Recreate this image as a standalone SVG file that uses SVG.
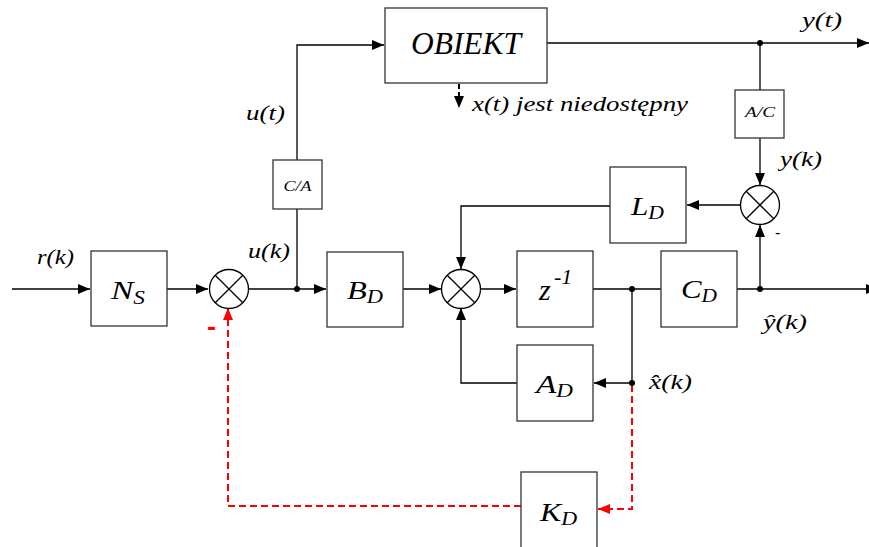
<svg xmlns="http://www.w3.org/2000/svg" width="869" height="547" viewBox="0 0 869 547">
<style>
.box{fill:#fff;stroke:#333;stroke-width:1.3}
.ln{fill:none;stroke:#000;stroke-width:1.3}
.red{fill:none;stroke:#f00;stroke-width:2;stroke-dasharray:7,4}
.t{font-family:'Liberation Serif','Times New Roman',serif;font-style:italic;fill:#000}
.big{font-size:26px}
.sub{font-size:18px}
.lab{font-size:21px}
.sm{font-size:14px}
.sum{fill:#fff;stroke:#000;stroke-width:1.3}
</style>
<defs>
<marker id="a" markerUnits="userSpaceOnUse" markerWidth="14" markerHeight="10" refX="12" refY="5" orient="auto"><path d="M0,0 L12,5 L0,10 Z" fill="#000"/></marker>
<marker id="ar" markerUnits="userSpaceOnUse" markerWidth="14" markerHeight="10" refX="12" refY="5" orient="auto"><path d="M0,0 L12,5 L0,10 Z" fill="#f00"/></marker>
</defs>
<rect width="869" height="547" fill="#fff"/>
<g id="connectors">
<polyline class="ln" points="297,160 297,45 384,45" marker-end="url(#a)"/>
<line class="ln" x1="297" y1="209" x2="297" y2="289"/>
<line class="ln" x1="12" y1="289" x2="90" y2="289" marker-end="url(#a)"/>
<line class="ln" x1="167" y1="289" x2="208" y2="289" marker-end="url(#a)"/>
<line class="ln" x1="248" y1="289" x2="326" y2="289" marker-end="url(#a)"/>
<line class="ln" x1="403" y1="289" x2="441" y2="289" marker-end="url(#a)"/>
<line class="ln" x1="480" y1="289" x2="516" y2="289" marker-end="url(#a)"/>
<line class="ln" x1="593" y1="289" x2="661" y2="289"/>
<line class="ln" x1="737" y1="289" x2="878" y2="289" marker-end="url(#a)"/>
<line class="ln" x1="547" y1="43" x2="869" y2="43" marker-end="url(#a)"/>
<line class="ln" x1="760" y1="43" x2="760" y2="90"/>
<line class="ln" x1="760" y1="138" x2="760" y2="185" marker-end="url(#a)"/>
<line class="ln" x1="760" y1="289" x2="760" y2="225" marker-end="url(#a)"/>
<line class="ln" x1="740" y1="205" x2="687" y2="205" marker-end="url(#a)"/>
<polyline class="ln" points="610,206 461,206 461,269" marker-end="url(#a)"/>
<line class="ln" x1="632" y1="289" x2="632" y2="383"/>
<line class="ln" x1="632" y1="383" x2="594" y2="383" marker-end="url(#a)"/>
<polyline class="ln" points="517,383 461,383 461,308" marker-end="url(#a)"/>
<line x1="459" y1="84" x2="459" y2="108" stroke="#000" stroke-width="2" stroke-dasharray="5,3" marker-end="url(#a)"/>
<polyline class="red" points="632,385 632,509 598,509" marker-end="url(#ar)"/>
<polyline class="red" points="521,506 228,506 228,308" marker-end="url(#ar)"/>
<circle cx="297" cy="289" r="3" fill="#000"/>
<circle cx="632" cy="289" r="3" fill="#000"/>
<circle cx="760" cy="289" r="3" fill="#000"/>
<circle cx="760" cy="43" r="3" fill="#000"/>
<circle cx="632" cy="383" r="3" fill="#000"/>
</g>
<g id="obiekt"><rect class="box" x="385" y="8" width="162" height="75"/><text class="t" x="411" y="54" font-size="31" textLength="110" lengthAdjust="spacingAndGlyphs">OBIEKT</text></g>
<g id="ca"><rect class="box" x="273" y="160" width="49" height="49"/><text class="t sm" x="283.5" y="191" textLength="28" lengthAdjust="spacingAndGlyphs">C/A</text></g>
<g id="ac"><rect class="box" x="735" y="90" width="49" height="48"/><text class="t sm" x="745" y="117" textLength="30" lengthAdjust="spacingAndGlyphs">A/C</text></g>
<g id="ns"><rect class="box" x="91" y="251" width="76" height="75"/><text class="t" x="111" y="299" textLength="34" lengthAdjust="spacingAndGlyphs"><tspan class="big">N</tspan><tspan class="sub" dy="5">S</tspan></text></g>
<g id="bd"><rect class="box" x="327" y="252" width="76" height="75"/><text class="t" x="347" y="299" textLength="36" lengthAdjust="spacingAndGlyphs"><tspan class="big">B</tspan><tspan class="sub" dy="4">D</tspan></text></g>
<g id="z"><rect class="box" x="517" y="251" width="76" height="76"/><text class="t" x="539" y="300"><tspan font-size="30">z</tspan><tspan font-size="22" x="554" y="284">-1</tspan></text></g>
<g id="cd"><rect class="box" x="661" y="251" width="76" height="76"/><text class="t" x="681" y="298" textLength="36" lengthAdjust="spacingAndGlyphs"><tspan class="big">C</tspan><tspan class="sub" dy="4">D</tspan></text></g>
<g id="ld"><rect class="box" x="610" y="167" width="76" height="76"/><text class="t" x="631" y="215" textLength="33" lengthAdjust="spacingAndGlyphs"><tspan class="big">L</tspan><tspan class="sub" dy="4">D</tspan></text></g>
<g id="ad"><rect class="box" x="517" y="345" width="76" height="76"/><text class="t" x="536" y="393" textLength="37" lengthAdjust="spacingAndGlyphs"><tspan class="big">A</tspan><tspan class="sub" dy="4">D</tspan></text></g>
<g id="kd"><rect class="box" x="521" y="472" width="76" height="76"/><text class="t" x="540" y="521" textLength="37" lengthAdjust="spacingAndGlyphs"><tspan class="big">K</tspan><tspan class="sub" dy="4">D</tspan></text></g>
<g id="sum1"><circle class="sum" cx="229" cy="289" r="19.5"/><path class="ln" d="M215.2,275.2 L242.8,302.8 M242.8,275.2 L215.2,302.8"/></g>
<g id="sum2"><circle class="sum" cx="461" cy="289" r="19.5"/><path class="ln" d="M447.2,275.2 L474.8,302.8 M474.8,275.2 L447.2,302.8"/></g>
<g id="sum3"><circle class="sum" cx="760" cy="205" r="19.5"/><path class="ln" d="M746.2,191.2 L773.8,218.8 M773.8,191.2 L746.2,218.8"/></g>
<g id="labels">
<text class="t lab" x="246" y="120" textLength="39" lengthAdjust="spacingAndGlyphs">u(t)</text>
<text class="t lab" x="248" y="258" textLength="42" lengthAdjust="spacingAndGlyphs">u(k)</text>
<text class="t lab" x="37" y="264" textLength="37" lengthAdjust="spacingAndGlyphs">r(k)</text>
<text class="t lab" x="802" y="27" textLength="40" lengthAdjust="spacingAndGlyphs">y(t)</text>
<text class="t lab" x="780" y="166" textLength="42" lengthAdjust="spacingAndGlyphs">y(k)</text>
<text class="t lab" x="472" y="111" textLength="216" lengthAdjust="spacingAndGlyphs">x(t) jest niedostępny</text>
<text class="t lab" x="763" y="329" textLength="44" lengthAdjust="spacingAndGlyphs">ŷ(k)</text>
<text class="t lab" x="649" y="389" textLength="43" lengthAdjust="spacingAndGlyphs">x̂(k)</text>
<text x="775" y="238" font-family="'Liberation Sans',sans-serif" font-size="16" fill="#000">-</text>
<text x="207" y="335" font-family="'Liberation Sans',sans-serif" font-weight="bold" font-size="26" fill="#f00" textLength="9" lengthAdjust="spacingAndGlyphs">-</text>
</g>
</svg>
